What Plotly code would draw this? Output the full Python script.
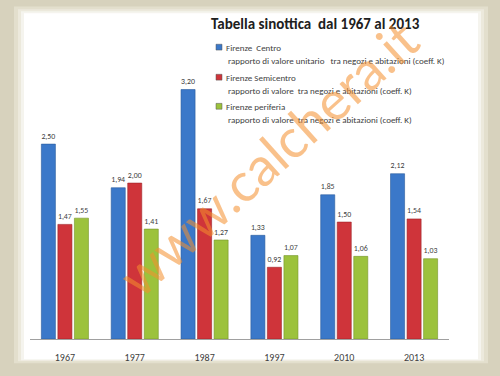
import plotly.graph_objects as go

years = ["1967", "1977", "1987", "1997", "2010", "2013"]
centro = [2.50, 1.94, 3.20, 1.33, 1.85, 2.12]
semicentro = [1.47, 2.00, 1.67, 0.92, 1.50, 1.54]
periferia = [1.55, 1.41, 1.27, 1.07, 1.06, 1.03]

series_names = ["Firenze  Centro", "Firenze Semicentro", "Firenze periferia"]
series_desc = [
    "rapporto di valore unitario   tra negozi e abitazioni (coeff. K)",
    "rapporto di valore  tra negozi e abitazioni (coeff. K)",
    "rapporto di valore  tra negozi e abitazioni (coeff. K)",
]
colors = ["#3b78c9", "#cf343a", "#9cc23c"]
lines = ["#2a5a9c", "#9e2328", "#76962a"]

def fmt(v):
    return f"{v:.2f}".replace(".", ",")

FONT = "Carlito, Lato, 'Open Sans', sans-serif"
W, H = 500, 376
ML, MR, MT, MB = 30, 51, 20, 27
PW, PH = W - ML - MR, H - MT - MB

def px(x):
    return (x - ML) / PW

def py(y):
    return (H - MB - y) / PH

fig = go.Figure()
for vals, name, c, lc in zip([centro, semicentro, periferia], series_names, colors, lines):
    fig.add_trace(go.Bar(
        x=years, y=vals, name=name,
        marker=dict(color=c, line=dict(color=lc, width=0.6)),
        text=[fmt(v) for v in vals], textposition="outside",
        textfont=dict(size=9.5, color="#404040", family=FONT),
        cliponaxis=False,
    ))

def px_rect(x0, y0, x1, y1, color):
    return dict(type="rect", xref="paper", yref="paper", layer="below",
                x0=px(x0), x1=px(x1), y0=py(y1), y1=py(y0),
                line=dict(width=0), fillcolor=color)

shapes = [
    px_rect(14, 6, 488, 374, "#e3dfcd"),
    px_rect(18, 9, 484, 372, "#ece9dc"),
    px_rect(21, 11, 481, 371, "#f5f4ee"),
    px_rect(24, 13, 478, 370, "#ffffff"),
]

annotations = []
# manual legend
leg_y = [48, 79, 109]
for i, (nm, desc, c) in enumerate(zip(series_names, series_desc, colors)):
    y0 = leg_y[i]
    shapes.append(dict(type="rect", xref="paper", yref="paper",
                       x0=px(216), x1=px(222), y0=py(y0 + 3), y1=py(y0 - 3),
                       line=dict(width=0.5, color="#555555"), fillcolor=c))
    annotations.append(dict(text=nm.replace("  ", "&nbsp; "), xref="paper", yref="paper",
                            x=px(224), y=py(y0), xanchor="left", yanchor="middle",
                            showarrow=False, font=dict(size=9, color="#404040", family=FONT)))
    annotations.append(dict(text=desc.replace("  ", "&nbsp; "), xref="paper", yref="paper",
                            x=px(226), y=py(y0 + 14), xanchor="left", yanchor="middle",
                            showarrow=False, font=dict(size=9, color="#404040", family=FONT)))

annotations.append(dict(
    text="<b>Tabella sinottica &nbsp;dal 1967 al 2013</b>", xref="paper", yref="paper",
    x=px(315), y=py(24), xanchor="center", yanchor="middle",
    showarrow=False, font=dict(size=15, color="#202020", family=FONT),
))
annotations.append(dict(
    text="www.calchera.it", xref="paper", yref="paper",
    x=px(268), y=py(162), xanchor="center", yanchor="middle",
    showarrow=False, textangle=-42, opacity=0.55,
    font=dict(size=54, color="#f5902e", family="Lato, sans-serif"),
))

fig.update_layout(
    width=W, height=H,
    paper_bgcolor="#d7d2bd", plot_bgcolor="rgba(0,0,0,0)",
    margin=dict(l=ML, r=MR, t=MT, b=MB),
    barmode="group", bargap=0.29, bargroupgap=0.15,
    font=dict(family=FONT),
    showlegend=False,
    xaxis=dict(showline=True, linecolor="#a0a0a0", linewidth=1, ticks="outside",
               ticklen=9, tickcolor="rgba(0,0,0,0)", showgrid=False,
               tickfont=dict(size=10, color="#404040", family=FONT)),
    yaxis=dict(range=[0, PH / 80.4], visible=False, showgrid=False),
    shapes=shapes,
    annotations=annotations,
)

fig.write_html("out.html", config={"displayModeBar": False},
               post_script="document.body.style.margin='0';")
